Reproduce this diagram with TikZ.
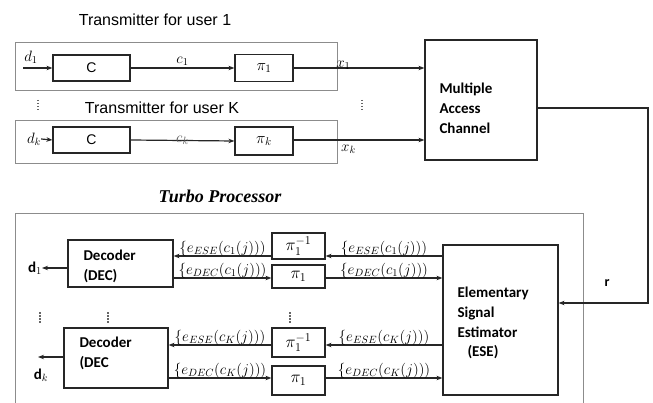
\RequirePackage{fix-cm}
\documentclass[tikz,border=0pt]{standalone}
\usepackage{fontspec}
\setmainfont{Liberation Serif}
\newfontfamily\hsans{Liberation Sans}
\newfontfamily\csans{Carlito}
\usetikzlibrary{arrows.meta}

\tikzset{
  blk/.style={draw=black!85, line width=1.2pt, inner sep=0pt, align=left},
  frame/.style={draw=black!45, line width=0.9pt},
  wire/.style={draw=black!85, line width=1.2pt},
  arr/.style={wire, -{Stealth[length=6pt,width=4.5pt]}},
  title/.style={font=\hsans\fontsize{16}{19}\selectfont},
  lbl/.style={font=\csans\bfseries\fontsize{15}{20}\selectfont, align=left},
  mlbl/.style={font=\fontsize{15}{17}\selectfont, inner sep=1pt},
  pbox/.style={blk, minimum width=53pt, font=\fontsize{17}{19}\selectfont},
  vdots/.style={draw=black!60, line width=1.2pt, dash pattern=on 1.5pt off 1.5pt},
}

\begin{document}
\begin{tikzpicture}[x=1pt,y=-1pt]
\useasboundingbox (0,0) rectangle (653,403);

% ---------- transmitters ----------
\node[title] (t1) at (155,20) {Transmitter for user 1};
\draw[frame] (15,42) rectangle (337,90);
\node[blk, minimum width=77pt, minimum height=26pt, font=\hsans\fontsize{14}{16}\selectfont] (C1) at (91.5,68) {C};
\node[blk, minimum width=58pt, minimum height=27pt, font=\fontsize{16}{18}\selectfont] (P1) at (264,68) {$\pi_1$};
\node[mlbl] (d1) at (31,57) {$d_1$};
\coordinate (d1in) at (23,68);
\draw[arr] (d1in) -- (C1.west);
\draw[arr] (C1.east) -- node[mlbl, above=1pt] (c1) {$c_1$} (P1.west);

\node[title] (tK) at (162,108) {Transmitter for user K};
\draw[frame] (15,120) rectangle (337,163);
\node[blk, minimum width=77pt, minimum height=26pt, font=\hsans\fontsize{14}{16}\selectfont] (CK) at (91.5,140) {C};
\node[blk, minimum width=58pt, minimum height=28pt, font=\fontsize{16}{18}\selectfont] (PK) at (264,141) {$\pi_k$};
\node[mlbl, inner sep=0pt] (dk) at (34,139) {$d_k$};
\draw[arr] (dk.east) -- (CK.west);
\draw[arr] (CK.east) -- node[mlbl, text=black!65, inner sep=0pt] (ck) {$c_k$} (PK.west);

\draw[vdots] (38,100) -- (38,112);
\draw[vdots] (362,100) -- (362,112);

% ---------- channel ----------
\node[blk, minimum width=112pt, minimum height=120pt] (MAC) at (481,100) {};
\node[lbl, anchor=west] (mact) at (436,108) {Multiple\\Access\\Channel};
\draw[arr] (P1.east) -- node[mlbl, pos=0.38, above=-3pt] (x1) {$x_1$} (P1.east -| MAC.west);
\draw[arr] (PK.east |- CK.east) -- node[mlbl, pos=0.42, below=3pt] (xk) {$x_k$} (CK.east -| MAC.west);

% ---------- turbo processor ----------
\node[font=\bfseries\itshape\fontsize{18}{21}\selectfont] (tp) at (220,196) {Turbo Processor};
\draw[frame] (15,403) -- (15,213) -- (583,213) -- (583,403);

\node[blk, minimum width=115pt, minimum height=150pt] (ESE) at (500.5,320) {};
\node[lbl, anchor=west] (eset) at (454,323) {Elementary\\Signal\\Estimator\\[-1pt]\hspace{10pt}(ESE)};

\node[blk, minimum width=105pt, minimum height=47pt] (D1) at (120.5,263.5) {};
\node[lbl, anchor=west] (d1t) at (80,266) {Decoder\\(DEC)};
\node[blk, minimum width=104pt, minimum height=60pt] (DK) at (116,358) {};
\node[lbl, anchor=west] (dkt) at (76,353) {Decoder\\(DEC};

\node[pbox, minimum height=26pt] (Q1) at (298.5,246) {$\pi_1^{-1}$};
\node[pbox, minimum height=23pt] (R1) at (298.5,276.5) {$\pi_1$};
\node[pbox, minimum height=29pt] (QK) at (298.5,342.5) {$\pi_1^{-1}$};
\node[pbox, minimum height=29pt] (RK) at (298.5,380.5) {$\pi_1$};

\coordinate (row1) at (0,256);
\coordinate (row2) at (0,278);
\coordinate (row3) at (0,345);
\coordinate (row4) at (0,378);

\draw[arr] (row1 -| ESE.west) -- node[mlbl, above=-2pt] {$\{e_{ESE}(c_1(j)))$} (row1 -| Q1.east);
\draw[arr] (row1 -| Q1.west) -- node[mlbl, above=-2pt] {$\{e_{ESE}(c_1(j)))$} (row1 -| D1.east);
\draw[arr] (row2 -| D1.east) -- node[mlbl, above=-2pt] {$\{e_{DEC}(c_1(j)))$} (row2 -| R1.west);
\draw[arr] (row2 -| R1.east) -- node[mlbl, above=-2pt] {$\{e_{DEC}(c_1(j)))$} (row2 -| ESE.west);

\draw[arr] (row3 -| ESE.west) -- node[mlbl, above=-2pt] {$\{e_{ESE}(c_K(j)))$} (row3 -| QK.east);
\draw[arr] (row3 -| QK.west) -- node[mlbl, above=-2pt] {$\{e_{ESE}(c_K(j)))$} (row3 -| DK.east);
\draw[arr] (row4 -| DK.east) -- node[mlbl, above=-2pt] {$\{e_{DEC}(c_K(j)))$} (row4 -| RK.west);
\draw[arr] (row4 -| RK.east) -- node[mlbl, above=-2pt] {$\{e_{DEC}(c_K(j)))$} (row4 -| ESE.west);

% decoded outputs
\node[lbl, inner sep=0pt, anchor=east] (o1) at (42,268) {d$_{1}$};
\draw[arr] ([yshift=-4.5pt]D1.west) -- (o1.east);
\coordinate (oKend) at (38,357);
\draw[arr] (DK.west |- oKend) -- (oKend);
\node[lbl, inner sep=0pt] (oK) at (41,375) {d$_{k}$};

\draw[vdots] (40,312) -- (40,323);
\draw[vdots] (108,312) -- (108,323);
\draw[vdots] (290,312) -- (290,323);

% ---------- received signal ----------
\coordinate (rout) at ([yshift=-8pt]MAC.east);
\coordinate (rin) at ([yshift=17pt]ESE.east);
\coordinate (rx) at (648,0);
\draw[arr] (rout) -- (rout -| rx) -- (rin -| rx) -- (rin);
\node[font=\csans\bfseries\fontsize{14}{16}\selectfont] (r) at (607,283) {r};
\end{tikzpicture}
\end{document}
